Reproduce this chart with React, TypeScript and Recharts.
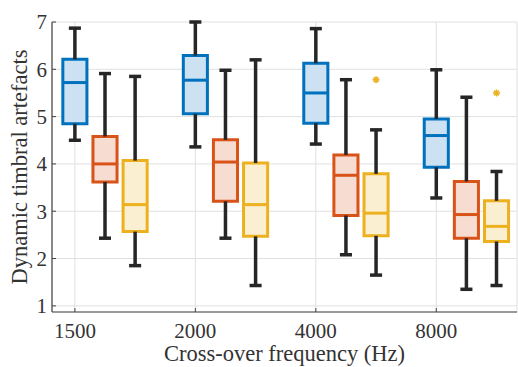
import {
  CartesianGrid,
  ComposedChart,
  ReferenceArea,
  ReferenceLine,
  Scatter,
  XAxis,
  YAxis,
} from "recharts";

const categories = ["1500", "2000", "4000", "8000"];
const yTicks = [1, 2, 3, 4, 5, 6, 7];

// [min, q1, median, q3, max] per category
const blueStats = [
  [4.5, 4.85, 5.72, 6.21, 6.87],
  [4.36, 5.06, 5.77, 6.29, 7.0],
  [4.42, 4.86, 5.5, 6.13, 6.86],
  [3.28, 3.93, 4.6, 4.95, 5.99],
];
const orangeStats = [
  [2.43, 3.62, 4.0, 4.58, 5.91],
  [2.43, 3.21, 4.04, 4.51, 5.98],
  [2.08, 2.91, 3.76, 4.19, 5.78],
  [1.35, 2.43, 2.93, 3.63, 5.41],
];
const yellowStats = [
  [1.85, 2.57, 3.14, 4.07, 5.85],
  [1.43, 2.47, 3.14, 4.02, 6.2],
  [1.65, 2.48, 2.96, 3.79, 4.72],
  [1.43, 2.36, 2.68, 3.22, 3.84],
];
const yellowOutliers = [null, null, 5.78, 5.5];

const series = [
  { stats: blueStats, offset: 0, stroke: "#0072BD", fill: "#cce1f2" },
  { stats: orangeStats, offset: 0.25, stroke: "#D95319", fill: "#f7dcd1" },
  { stats: yellowStats, offset: 0.5, stroke: "#EDB120", fill: "#fbefd2" },
];

const outlierData = yellowOutliers
  .map((v, i) => (v == null ? null : { x: i + 1.5, y: v }))
  .filter(Boolean);

const BOX = 0.1;
const CAP = 0.05;
const INK = "#262626";
const AXIS = "#444444";
const TXT = "#333333";
const FONT = "Liberation Serif";

function Star(props: any) {
  const { cx, cy } = props;
  const r = 3.5;
  return (
    <g stroke="#EDB120" strokeWidth={1.6}>
      <line x1={cx - r} y1={cy} x2={cx + r} y2={cy} />
      <line x1={cx} y1={cy - r} x2={cx} y2={cy + r} />
      <line x1={cx - r * 0.7} y1={cy - r * 0.7} x2={cx + r * 0.7} y2={cy + r * 0.7} />
      <line x1={cx - r * 0.7} y1={cy + r * 0.7} x2={cx + r * 0.7} y2={cy - r * 0.7} />
    </g>
  );
}

// tick labels plus small inward tick marks (matlab style)
function XTick(props: any) {
  const { x, y, payload } = props;
  return (
    <g>
      <line x1={x} x2={x} y1={y - 11} y2={y - 15} stroke={AXIS} strokeWidth={1} />
      <text x={x} y={y} dy="0.71em" textAnchor="middle" fill={TXT} fontSize={21} fontFamily={FONT}>
        {categories[payload.value - 1]}
      </text>
    </g>
  );
}

function YTick(props: any) {
  const { x, y, payload } = props;
  return (
    <g>
      <line x1={x + 5} x2={x + 9} y1={y} y2={y} stroke={AXIS} strokeWidth={1} />
      <text x={x} y={y} dy="0.355em" textAnchor="end" fill={TXT} fontSize={21} fontFamily={FONT}>
        {payload.value}
      </text>
    </g>
  );
}

export default function App() {
  const whiskers: any[] = [];
  const boxes: any[] = [];
  const medians: any[] = [];
  series.forEach((s, si) => {
    s.stats.forEach(([mn, q1, med, q3, mx], ci) => {
      const x = ci + 1 + s.offset;
      const k = `${si}-${ci}`;
      whiskers.push(
        <ReferenceLine key={`wu${k}`} segment={[{ x, y: q3 }, { x, y: mx }]} stroke={INK} strokeWidth={3.5} ifOverflow="visible" />,
        <ReferenceLine key={`wl${k}`} segment={[{ x, y: mn }, { x, y: q1 }]} stroke={INK} strokeWidth={3.5} ifOverflow="visible" />,
        <ReferenceLine key={`cu${k}`} segment={[{ x: x - CAP, y: mx }, { x: x + CAP, y: mx }]} stroke={INK} strokeWidth={3.5} ifOverflow="visible" />,
        <ReferenceLine key={`cl${k}`} segment={[{ x: x - CAP, y: mn }, { x: x + CAP, y: mn }]} stroke={INK} strokeWidth={3.5} ifOverflow="visible" />
      );
      boxes.push(
        <ReferenceArea key={`b${k}`} x1={x - BOX} x2={x + BOX} y1={q1} y2={q3} fill={s.fill} fillOpacity={1} stroke={s.stroke} strokeWidth={3} ifOverflow="visible" />
      );
      medians.push(
        <ReferenceLine key={`m${k}`} segment={[{ x: x - BOX, y: med }, { x: x + BOX, y: med }]} stroke={s.stroke} strokeWidth={3} ifOverflow="visible" />
      );
    });
  });

  return (
    <div style={{ position: "absolute", left: 0, top: 0, fontFamily: FONT }}>
      <ComposedChart
        width={518}
        height={367}
        margin={{ top: 22, right: 1, bottom: 0, left: 0 }}
        style={{ fontFamily: FONT }}
      >
        <CartesianGrid stroke="#e0e0e0" strokeWidth={1} />
        <XAxis
          type="number"
          dataKey="x"
          domain={[0.81, 4.67]}
          ticks={[1, 2, 3, 4]}
          height={55}
          stroke={AXIS}
          strokeWidth={1.2}
          tickLine={false}
          tick={<XTick />}
          tickMargin={5}
          label={{
            value: "Cross-over frequency (Hz)",
            position: "insideBottom",
            offset: 6,
            fontFamily: FONT,
            style: { fill: TXT, fontSize: 22.5, fontFamily: FONT },
          }}
        />
        <YAxis
          type="number"
          dataKey="y"
          domain={[0.87, 7]}
          ticks={yTicks}
          width={52}
          stroke={AXIS}
          strokeWidth={1.2}
          tickLine={false}
          tickSize={3}
          tickMargin={2}
          tick={<YTick />}
          label={{
            value: "Dynamic timbral artefacts",
            angle: -90,
            position: "insideLeft",
            offset: 19,
            fontFamily: FONT,
            style: { fill: TXT, fontSize: 22.5, fontFamily: FONT, textAnchor: "middle" },
          }}
        />
        {whiskers}
        {boxes}
        {medians}
        <Scatter data={outlierData} shape={<Star />} isAnimationActive={false} />
      </ComposedChart>
    </div>
  );
}
